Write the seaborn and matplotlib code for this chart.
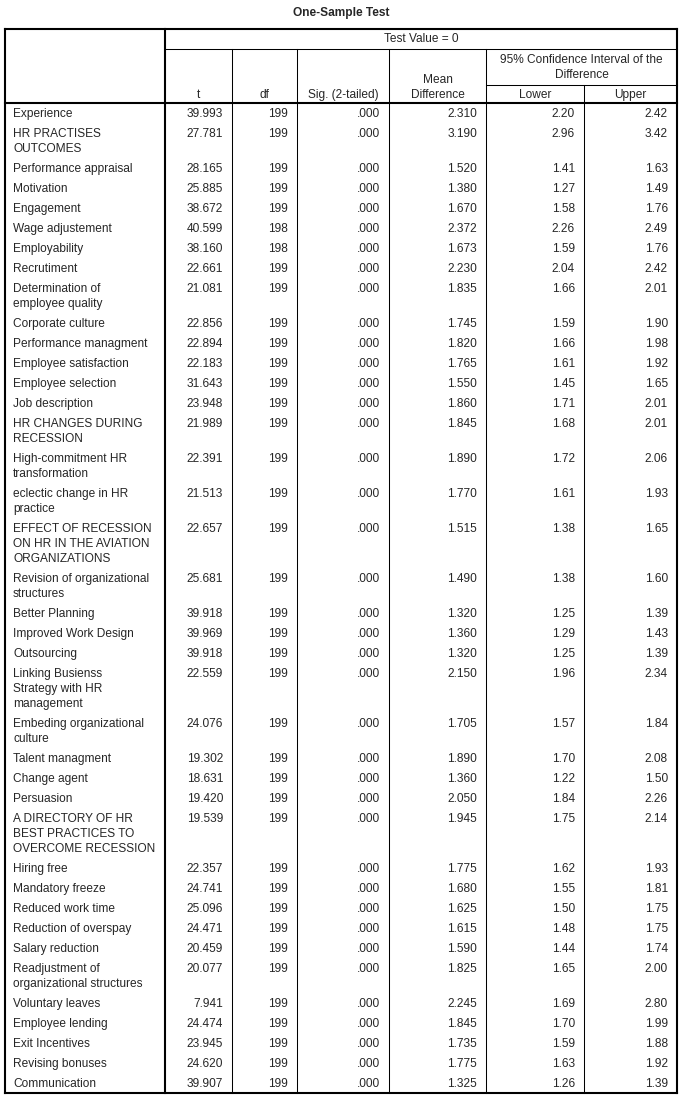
import matplotlib
matplotlib.use("Agg")
import matplotlib.pyplot as plt
import seaborn as sns

# table content
labels = ["Experience", "HR PRACTISES\nOUTCOMES", "Performance appraisal", "Motivation",
          "Engagement", "Wage adjustement", "Employability", "Recrutiment",
          "Determination of\nemployee quality", "Corporate culture", "Performance managment",
          "Employee satisfaction", "Employee selection", "Job description",
          "HR CHANGES DURING\nRECESSION", "High-commitment HR\ntransformation",
          "eclectic change in HR\npractice",
          "EFFECT OF RECESSION\nON HR IN THE AVIATION\nORGANIZATIONS",
          "Revision of organizational\nstructures", "Better Planning", "Improved Work Design",
          "Outsourcing", "Linking Busienss\nStrategy with HR\nmanagement",
          "Embeding organizational\nculture", "Talent managment", "Change agent", "Persuasion",
          "A DIRECTORY OF HR\nBEST PRACTICES TO\nOVERCOME RECESSION",
          "Hiring free", "Mandatory freeze", "Reduced work time", "Reduction of overspay",
          "Salary reduction", "Readjustment of\norganizational structures", "Voluntary leaves",
          "Employee lending", "Exit Incentives", "Revising bonuses", "Communication"]

t_values = [39.993, 27.781, 28.165, 25.885, 38.672, 40.599, 38.160, 22.661, 21.081, 22.856,
            22.894, 22.183, 31.643, 23.948, 21.989, 22.391, 21.513, 22.657, 25.681, 39.918,
            39.969, 39.918, 22.559, 24.076, 19.302, 18.631, 19.420, 19.539, 22.357, 24.741,
            25.096, 24.471, 20.459, 20.077, 7.941, 24.474, 23.945, 24.620, 39.907]

df_values = [199, 199, 199, 199, 199, 198, 198, 199, 199, 199, 199, 199, 199, 199, 199, 199,
             199, 199, 199, 199, 199, 199, 199, 199, 199, 199, 199, 199, 199, 199, 199, 199,
             199, 199, 199, 199, 199, 199, 199]

sig_values = [0.0] * 39

mean_diff = [2.310, 3.190, 1.520, 1.380, 1.670, 2.372, 1.673, 2.230, 1.835, 1.745, 1.820,
             1.765, 1.550, 1.860, 1.845, 1.890, 1.770, 1.515, 1.490, 1.320, 1.360, 1.320,
             2.150, 1.705, 1.890, 1.360, 2.050, 1.945, 1.775, 1.680, 1.625, 1.615, 1.590,
             1.825, 2.245, 1.845, 1.735, 1.775, 1.325]

ci_lower = [2.20, 2.96, 1.41, 1.27, 1.58, 2.26, 1.59, 2.04, 1.66, 1.59, 1.66, 1.61, 1.45,
            1.71, 1.68, 1.72, 1.61, 1.38, 1.38, 1.25, 1.29, 1.25, 1.96, 1.57, 1.70, 1.22,
            1.84, 1.75, 1.62, 1.55, 1.50, 1.48, 1.44, 1.65, 1.69, 1.70, 1.59, 1.63, 1.26]

ci_upper = [2.42, 3.42, 1.63, 1.49, 1.76, 2.49, 1.76, 2.42, 2.01, 1.90, 1.98, 1.92, 1.65,
            2.01, 2.01, 2.06, 1.93, 1.65, 1.60, 1.39, 1.43, 1.39, 2.34, 1.84, 2.08, 1.50,
            2.26, 2.14, 1.93, 1.81, 1.75, 1.75, 1.74, 2.00, 2.80, 1.99, 1.88, 1.92, 1.39]

sns.set_theme(style="white")
plt.rcParams['font.family'] = ['Liberation Sans', 'DejaVu Sans']

W, H = 682, 1100
fig = plt.figure(figsize=(W / 100, H / 100), dpi=100)
ax = fig.add_axes([0, 0, 1, 1])
ax.set_xlim(0, W)
ax.set_ylim(H, 0)
ax.axis('off')

fs = 8.6
thin = 0.75
thick = 1.5
cols = [5, 165, 232, 297, 389, 486, 584, 677]
top = 29
head_bottom = 103
line1 = 49   # below "Test Value = 0"
line2 = 85   # below CI caption

# row layout: 20px first line, +15px for each extra line
row_tops = []
y = head_bottom
for lab in labels:
    row_tops.append(y)
    y += 20 + 15 * (lab.count('\n'))
bottom = y


def hline(y, x0, x1, lw):
    ax.plot([x0, x1], [y, y], color='black', lw=lw, solid_capstyle='projecting')


def vline(x, y0, y1, lw):
    ax.plot([x, x], [y0, y1], color='black', lw=lw, solid_capstyle='projecting')


# title
ax.text(W / 2, 13, "One-Sample Test", ha='center', va='center', fontsize=fs,
        fontweight='bold')

# grid lines
hline(line1, cols[1], cols[-1], thin)
hline(line2, cols[5], cols[-1], thin)
for x in cols[2:5]:
    vline(x, line1, bottom, thin)
vline(cols[5], line1, bottom, thin)
vline(cols[6], line2, bottom, thin)
hline(head_bottom, cols[0], cols[-1], thick)
vline(cols[1], top, bottom, thick)
# outer border
hline(top, cols[0], cols[-1], thick)
hline(bottom, cols[0], cols[-1], thick)
vline(cols[0], top, bottom, thick)
vline(cols[-1], top, bottom, thick)

# headers
ax.text((cols[1] + cols[-1]) / 2, 39, "Test Value = 0", ha='center', va='center', fontsize=fs)
ax.text((cols[5] + cols[-1]) / 2, 60, "95% Confidence Interval of the", ha='center',
        va='center', fontsize=fs)
ax.text((cols[5] + cols[-1]) / 2, 75, "Difference", ha='center', va='center', fontsize=fs)
ax.text((cols[4] + cols[5]) / 2, 80, "Mean", ha='center', va='center', fontsize=fs)
heads = ["t", "df", "Sig. (2-tailed)", "Difference", "Lower", "Upper"]
for i, h in enumerate(heads):
    ax.text((cols[i + 1] + cols[i + 2]) / 2, 95, h, ha='center', va='center', fontsize=fs)

# body
pad = 9
for i, lab in enumerate(labels):
    ty = row_tops[i] + 11
    for k, part in enumerate(lab.split('\n')):
        ax.text(cols[0] + 8, ty + 15 * k, part, ha='left', va='center', fontsize=fs)
    cells = [f"{t_values[i]:.3f}", f"{df_values[i]}",
             f"{sig_values[i]:.3f}".lstrip('0'), f"{mean_diff[i]:.3f}",
             f"{ci_lower[i]:.2f}", f"{ci_upper[i]:.2f}"]
    for j, c in enumerate(cells):
        ax.text(cols[j + 2] - pad, ty, c, ha='right', va='center', fontsize=fs)

fig.savefig("out.png", dpi=100, facecolor='white')
